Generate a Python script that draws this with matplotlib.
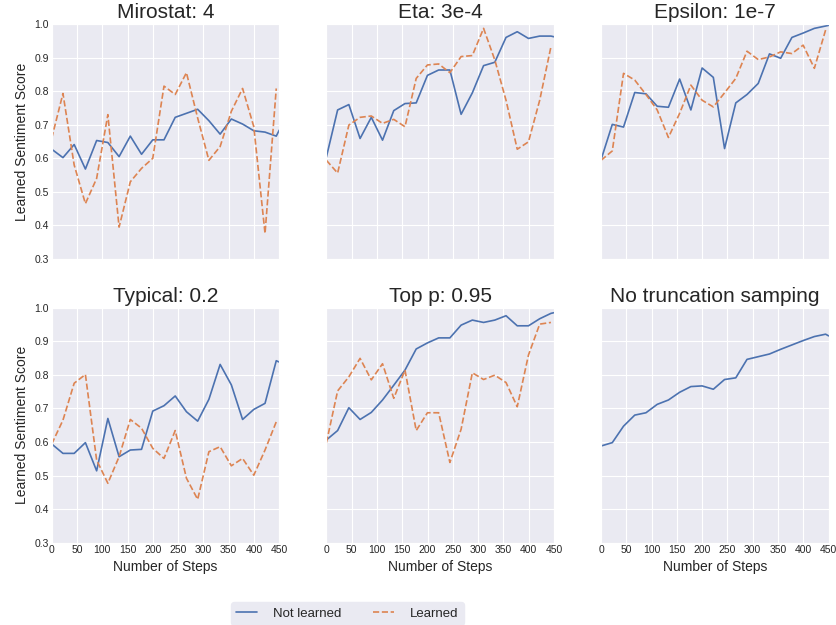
import numpy as np
import matplotlib
matplotlib.use('Agg')
import matplotlib.pyplot as plt
import seaborn as sns

sns.set_style('darkgrid')
plt.rcParams['font.family'] = ['Liberation Sans', 'DejaVu Sans']

# Logged steps (21 evenly spaced checkpoints plus the final step)
steps = list(np.linspace(0, 444, 21)) + [450]

titles = ['Mirostat: 4', 'Eta: 3e-4', 'Epsilon: 1e-7',
          'Typical: 0.2', 'Top p: 0.95', 'No truncation samping']

# Sentiment score of the reward model that was not learned
mirostat_not = [0.627, 0.602, 0.641, 0.568, 0.653, 0.647, 0.605, 0.666, 0.612, 0.655, 0.655,
                0.722, 0.734, 0.746, 0.712, 0.672, 0.717, 0.702, 0.682, 0.678, 0.666, 0.684]
eta_not = [0.604, 0.744, 0.760, 0.659, 0.722, 0.654, 0.742, 0.763, 0.765, 0.847, 0.863,
           0.863, 0.731, 0.795, 0.876, 0.886, 0.960, 0.977, 0.957, 0.964, 0.964, 0.962]
epsilon_not = [0.596, 0.701, 0.693, 0.796, 0.792, 0.755, 0.752, 0.836, 0.744, 0.869, 0.841,
               0.629, 0.765, 0.790, 0.823, 0.911, 0.898, 0.960, 0.973, 0.987, 0.994, 0.996]
typical_not = [0.594, 0.566, 0.566, 0.598, 0.514, 0.670, 0.556, 0.576, 0.578, 0.692, 0.708,
               0.737, 0.690, 0.662, 0.727, 0.831, 0.770, 0.667, 0.697, 0.715, 0.842, 0.838]
topp_not = [0.606, 0.634, 0.702, 0.667, 0.688, 0.725, 0.769, 0.814, 0.877, 0.895, 0.910,
            0.910, 0.948, 0.963, 0.956, 0.963, 0.976, 0.946, 0.946, 0.967, 0.983, 0.985]
none_not = [0.588, 0.598, 0.647, 0.680, 0.687, 0.712, 0.725, 0.748, 0.765, 0.767, 0.757,
            0.786, 0.791, 0.846, 0.854, 0.862, 0.876, 0.889, 0.902, 0.914, 0.921, 0.916]

# Sentiment score of the learned reward model (no run without truncation)
mirostat_learned = [0.660, 0.793, 0.580, 0.465, 0.540, 0.730, 0.395, 0.530, 0.570, 0.600, 0.815,
                    0.790, 0.855, 0.720, 0.594, 0.635, 0.740, 0.808, 0.694, 0.376, 0.808]
eta_learned = [0.594, 0.556, 0.699, 0.722, 0.726, 0.704, 0.716, 0.694, 0.838, 0.878, 0.881,
               0.855, 0.903, 0.906, 0.987, 0.893, 0.773, 0.627, 0.649, 0.773, 0.932]
epsilon_learned = [0.594, 0.622, 0.853, 0.833, 0.790, 0.744, 0.662, 0.734, 0.818, 0.773, 0.753,
                   0.795, 0.838, 0.919, 0.894, 0.902, 0.917, 0.912, 0.937, 0.868, 0.982]
typical_learned = [0.594, 0.665, 0.775, 0.801, 0.546, 0.477, 0.556, 0.667, 0.641, 0.581, 0.551,
                   0.634, 0.492, 0.429, 0.571, 0.586, 0.529, 0.551, 0.501, 0.576, 0.660]
topp_learned = [0.598, 0.752, 0.794, 0.849, 0.785, 0.833, 0.730, 0.814, 0.634, 0.687, 0.687,
                0.539, 0.638, 0.806, 0.786, 0.799, 0.777, 0.705, 0.859, 0.951, 0.956]

not_learned = [mirostat_not, eta_not, epsilon_not, typical_not, topp_not, none_not]
learned = [mirostat_learned, eta_learned, epsilon_learned, typical_learned, topp_learned, None]

blue = '#4C72B0'
orange = '#DD8452'

fig, axes = plt.subplots(2, 3, figsize=(8.37, 6.25), dpi=100, sharex=True, sharey=True)
fig.subplots_adjust(left=0.0618, right=0.990, bottom=0.1317, top=0.9616,
                    wspace=0.207, hspace=0.207)

for i, ax in enumerate(axes.flat):
    y1 = not_learned[i]
    ax.plot(steps[:len(y1)], y1, color=blue, lw=1.2, label='Not learned')
    y2 = learned[i]
    if y2 is not None:
        ax.plot(steps[:len(y2)], y2, color=orange, lw=1.2, ls='--', label='Learned')
    ax.set_title(titles[i], fontsize=15, pad=4)
    ax.set_xlim(0, 450)
    ax.set_ylim(0.3, 1.0)
    ax.set_xticks(np.arange(0, 451, 50))
    ax.set_yticks(np.arange(0.3, 1.01, 0.1))
    ax.tick_params(labelsize=7.5, pad=2, length=0)
    if i % 3 == 0:
        ax.set_ylabel('Learned Sentiment Score', fontsize=10)
    if i >= 3:
        ax.set_xlabel('Number of Steps', fontsize=10, labelpad=3)

handles, labels = axes[0, 0].get_legend_handles_labels()
leg = fig.legend(handles, labels, loc='center', bbox_to_anchor=(0.415, 0.0184),
                 ncol=2, fontsize=9.5, frameon=True, columnspacing=2.4,
                 handlelength=1.6, handletextpad=1.2, borderpad=0.4)
leg.get_frame().set_facecolor('#EAEAF2')
leg.get_frame().set_edgecolor('#EAEAF2')
leg.get_frame().set_alpha(1.0)

fig.savefig('out.png', dpi=100)
